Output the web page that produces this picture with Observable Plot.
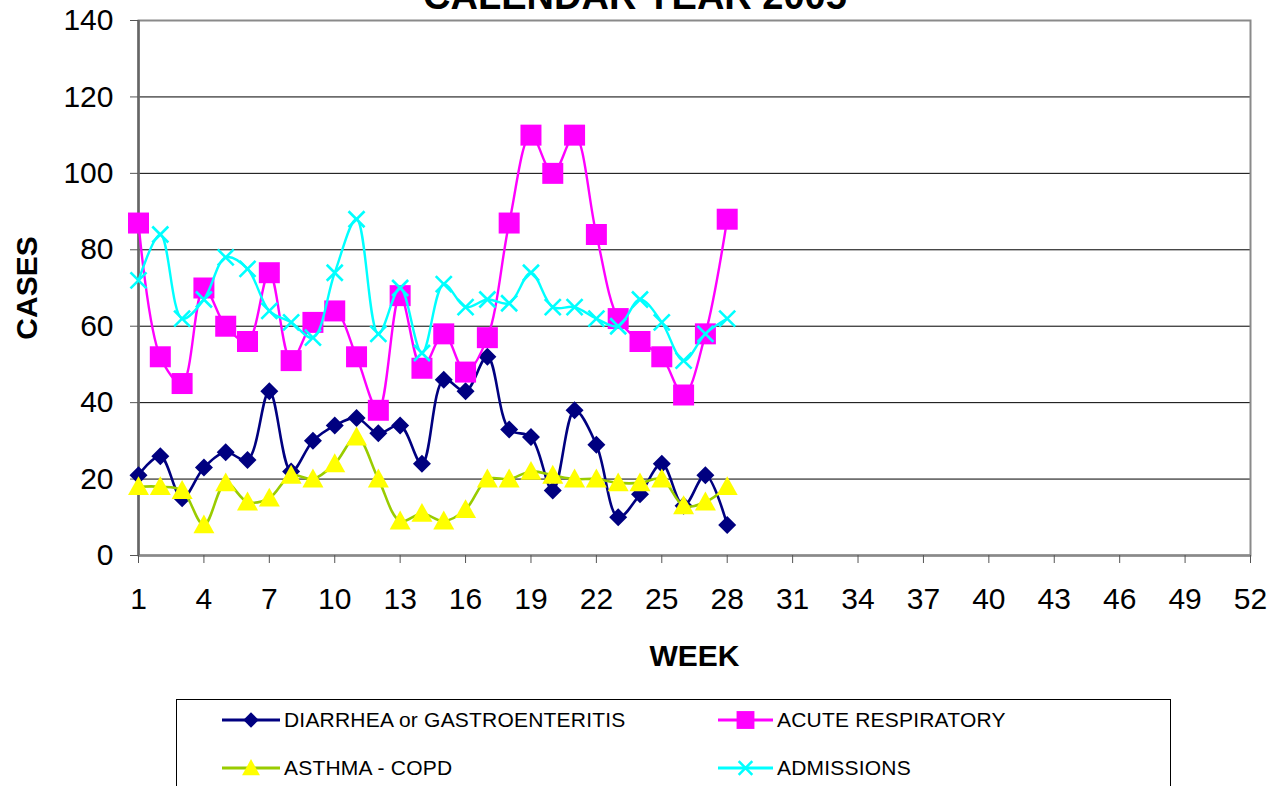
<!DOCTYPE html>
<html><head><meta charset="utf-8">
<script src="https://cdn.jsdelivr.net/npm/d3@7"></script>
<script src="https://cdn.jsdelivr.net/npm/@observablehq/plot@0.6"></script>
<style>
html,body{margin:0;padding:0;background:#fff;overflow:hidden;}
#wrap{position:relative;width:1287px;height:786px;overflow:hidden;font-family:"Liberation Sans",Arial,sans-serif;background:#fff;}
#chart{position:absolute;left:0;top:0;}
#title{position:absolute;left:0;width:1270px;top:-23px;text-align:center;font-weight:bold;font-size:38px;line-height:38px;color:#000;}
#legend{position:absolute;left:0;top:690px;}
</style></head><body>
<div id="wrap"><div id="chart"></div><div id="title">CALENDAR YEAR 2005</div><svg id="legend" width="1287" height="96"></svg></div>
<script>
// ---- data ----
const weeks = [1,2,3,4,5,6,7,8,9,10,11,12,13,14,15,16,17,18,19,20,21,22,23,24,25,26,27,28];
const diarrhea   = [21,26,15,23,27,25,43,22,30,34,36,32,34,24,46,43,52,33,31,17,38,29,10,16,24,13,21,8];
const acuteResp  = [87,52,45,70,60,56,74,51,61,64,52,38,68,49,58,48,57,87,110,100,110,84,62,56,52,42,58,88];
const asthma     = [18,18,17,8,19,14,15,21,20,24,31,20,9,11,9,12,20,20,22,21,20,20,19,19,20,13,14,18];
const admissions = [72,84,62,67,78,75,64,61,57,74,88,58,70,53,71,65,67,66,74,65,65,62,60,67,61,51,58,62];
const seriesNames = ["DIARRHEA or GASTROENTERITIS","ACUTE RESPIRATORY","ASTHMA - COPD","ADMISSIONS"];
const xTicks = [1,4,7,10,13,16,19,22,25,28,31,34,37,40,43,46,49,52];
const yTicks = [0,20,40,60,80,100,120,140];

// ---- symbols (size -> half-width) ----
const hw = s => Math.sqrt(s/Math.PI);
const diamond = {draw(c,s){const h=hw(s);c.moveTo(0,-h);c.lineTo(h,0);c.lineTo(0,h);c.lineTo(-h,0);c.closePath();}};
const square = {draw(c,s){const h=hw(s);c.rect(-h,-h,2*h,2*h);}};
const triangle = {draw(c,s){const h=hw(s);c.moveTo(0,-h);c.lineTo(h,0.8*h);c.lineTo(-h,0.8*h);c.closePath();}};
const times = {draw(c,s){const h=hw(s);c.moveTo(-h,-h);c.lineTo(h,h);c.moveTo(h,-h);c.lineTo(-h,h);}};

const series = [
  {name: seriesNames[0], values: diarrhea, line: "#000080", lw: 2.6, sym: diamond, r: 9, fill: "#000080", stroke: "none", sw: 0},
  {name: seriesNames[1], values: acuteResp, line: "#FF00FF", lw: 2.4, sym: square, r: 10.5, fill: "#FF00FF", stroke: "none", sw: 0},
  {name: seriesNames[2], values: asthma, line: "#99CC00", lw: 2.6, sym: triangle, r: 10.5, fill: "#FFFF00", stroke: "none", sw: 0},
  {name: seriesNames[3], values: admissions, line: "#00FFFF", lw: 2.4, sym: times, r: 8, fill: "none", stroke: "#00FFFF", sw: 2.6}
];

const marks = [
  Plot.ruleY([20,40,60,80,100,120], {stroke: "#000", strokeWidth: 1}),
  Plot.frame({stroke: "#8a8a8a", strokeWidth: 2}),
  Plot.ruleY([0], {stroke: "#8a8a8a", strokeWidth: 2.5}),
  Plot.ruleX([1], {stroke: "#666", strokeWidth: 2.5}),
  Plot.axisY({ticks: yTicks, tickSize: 8, tickPadding: 17, label: null, stroke: "#555"}),
  Plot.axisX({ticks: xTicks, tickSize: 8, tickPadding: 24, label: null, tickFormat: d => String(d), stroke: "#555"}),
  Plot.text(["WEEK"], {frameAnchor: "bottom", dy: 110, fontSize: 30, fontWeight: "bold", fill: "#000"}),
  Plot.text(["CASES"], {frameAnchor: "left", dx: -111, rotate: -90, textAnchor: "middle", fontSize: 30, fontWeight: "bold", fill: "#000"})
];
for (const s of series) {
  const rows = weeks.map((w, i) => ({week: w, value: s.values[i]}));
  marks.push(Plot.line(rows, {x: "week", y: "value", stroke: s.line, strokeWidth: s.lw, curve: "catmull-rom"}));
  marks.push(Plot.dot(rows, {x: "week", y: "value", symbol: s.sym, r: s.r, fill: s.fill, stroke: s.stroke, strokeWidth: s.sw}));
}

const chart = Plot.plot({
  width: 1287, height: 690,
  marginTop: 20, marginBottom: 135, marginLeft: 138, marginRight: 37,
  x: {type: "linear", domain: [1, 52]},
  y: {type: "linear", domain: [0, 140]},
  style: {fontFamily: "'Liberation Sans', Arial, sans-serif", fontSize: "30px", color: "#000", background: "#fff", overflow: "visible"},
  marks
});
document.getElementById("chart").appendChild(chart);

// ---- legend ----
const lg = d3.select("#legend");
lg.append("rect").attr("x", 176.5).attr("y", 9.5).attr("width", 994).attr("height", 150)
  .attr("fill", "#fff").attr("stroke", "#000").attr("stroke-width", 1);
const pos = [[222, 280, 30], [718, 773, 30], [222, 280, 78], [718, 773, 78]];
series.forEach((s, i) => {
  const [x0, x1, y] = pos[i];
  const g = lg.append("g");
  g.append("line").attr("x1", x0).attr("x2", x1).attr("y1", y).attr("y2", y)
    .attr("stroke", s.line).attr("stroke-width", s.lw + 0.4);
  const rr = s.r * 0.85;
  g.append("path").attr("transform", `translate(${(x0 + x1) / 2},${y})`)
    .attr("d", d3.symbol(s.sym, rr * rr * Math.PI)())
    .attr("fill", s.fill).attr("stroke", s.stroke).attr("stroke-width", s.sw);
  g.append("text").attr("x", x1 + 4).attr("y", y).attr("dy", "0.35em")
    .attr("font-family", "'Liberation Sans', Arial, sans-serif").attr("font-size", 21)
    .attr("letter-spacing", "0.2px")
    .attr("fill", "#000").text(s.name);
});
</script>
</body></html>
